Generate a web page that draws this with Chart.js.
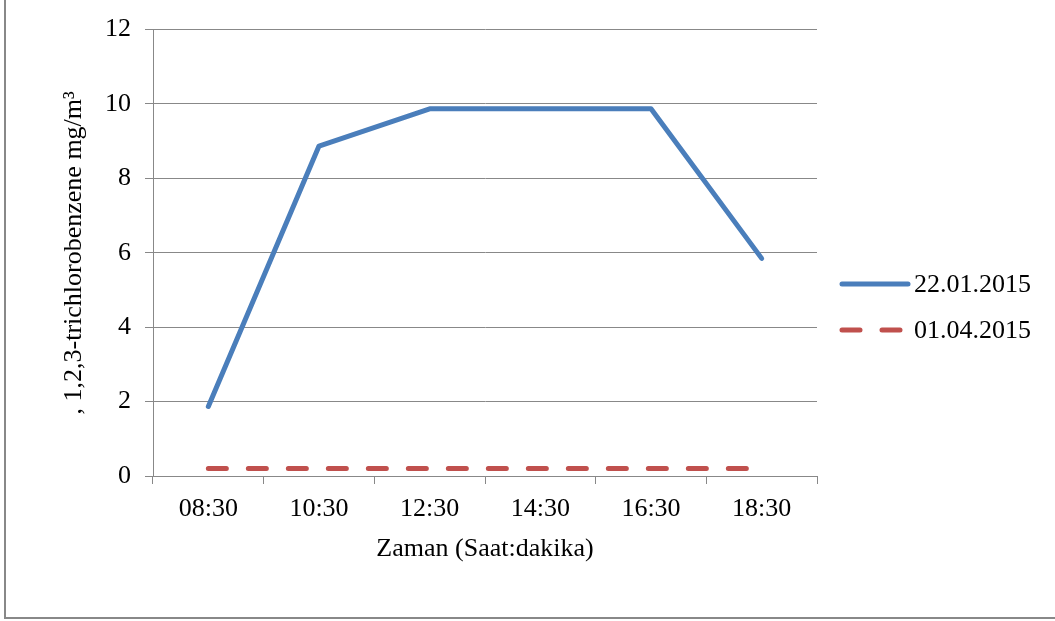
<!DOCTYPE html>
<html>
<head>
<meta charset="utf-8">
<script src="https://cdn.jsdelivr.net/npm/chart.js@4"></script>
<style>
  html, body { margin: 0; padding: 0; background: #ffffff; }
  #wrap { width: 1055px; height: 621px; position: relative; }
</style>
</head>
<body>
<div id="wrap"><canvas id="chart" width="1055" height="621"></canvas></div>
<script>
// Sampling times and measured concentrations (mg/m³)
const times = ['08:30', '10:30', '12:30', '14:30', '16:30', '18:30'];
const seriesJan = [1.87, 8.87, 9.87, 9.87, 9.87, 5.85];
const seriesApr = [0.2, 0.2, 0.2, 0.2, 0.2, 0.2];
const seriesNames = ['22.01.2015', '01.04.2015'];
const yTicks = [0, 2, 4, 6, 8, 10, 12];

const FONT = "'Liberation Serif', 'Times New Roman', serif";
const GRID = '#888888';

// Legend drawn at the right of the plot, line sample + label
const sideLegend = {
  id: 'sideLegend',
  afterDraw(chart) {
    const ctx = chart.ctx;
    const rows = [284, 330];
    ctx.save();
    chart.data.datasets.forEach((ds, i) => {
      const y = rows[i];
      ctx.beginPath();
      ctx.strokeStyle = ds.borderColor;
      ctx.lineWidth = ds.borderWidth;
      ctx.lineCap = 'round';
      ctx.setLineDash(ds.borderDash || []);
      ctx.moveTo(842, y);
      ctx.lineTo(908, y);
      ctx.stroke();
      ctx.setLineDash([]);
      ctx.fillStyle = '#000000';
      ctx.font = '26px ' + FONT;
      ctx.textBaseline = 'middle';
      ctx.textAlign = 'left';
      ctx.fillText(ds.label, 914, y + 1);
    });
    ctx.restore();
  }
};

// Frame lines at the left and bottom edges
const frame = {
  id: 'frame',
  afterDraw(chart) {
    const ctx = chart.ctx;
    ctx.save();
    ctx.strokeStyle = '#888888';
    ctx.lineWidth = 2;
    ctx.beginPath();
    ctx.moveTo(5, 0);
    ctx.lineTo(5, 618);
    ctx.lineTo(1055, 618);
    ctx.stroke();
    ctx.restore();
  }
};

new Chart(document.getElementById('chart'), {
  type: 'line',
  data: {
    labels: times,
    datasets: [
      {
        label: seriesNames[0],
        data: seriesJan,
        borderColor: '#4a7ebb',
        backgroundColor: '#4a7ebb',
        borderWidth: 5,
        pointRadius: 0,
        tension: 0,
        borderCapStyle: 'round',
        borderJoinStyle: 'round'
      },
      {
        label: seriesNames[1],
        data: seriesApr,
        borderColor: '#c0504d',
        backgroundColor: '#c0504d',
        borderWidth: 5,
        borderDash: [18, 22],
        pointRadius: 0,
        tension: 0,
        borderCapStyle: 'round'
      }
    ]
  },
  options: {
    responsive: false,
    animation: false,
    devicePixelRatio: 1,
    layout: { padding: { left: 0, right: 238, top: 28, bottom: 0 } },
    plugins: {
      legend: { display: false },
      tooltip: { enabled: false }
    },
    scales: {
      x: {
        type: 'category',
        offset: true,
        grid: {
          offset: true,
          drawOnChartArea: false,
          drawTicks: true,
          tickLength: 8,
          color: GRID,
          lineWidth: 1
        },
        border: { display: true, color: GRID, width: 1 },
        ticks: {
          color: '#000000',
          font: { family: FONT, size: 26 },
          padding: 10,
          maxRotation: 0
        },
        title: {
          display: true,
          text: 'Zaman (Saat:dakika)',
          color: '#000000',
          font: { family: FONT, size: 26 },
          padding: { top: 0, bottom: 56 }
        },
        afterFit(scale) { scale.height = 145; }
      },
      y: {
        min: 0,
        max: 12,
        afterBuildTicks(scale) { scale.ticks = yTicks.map(v => ({ value: v })); },
        grid: {
          color: GRID,
          lineWidth: 1,
          drawTicks: true,
          tickLength: 8
        },
        border: { display: true, color: GRID, width: 1 },
        ticks: {
          color: '#000000',
          font: { family: FONT, size: 26 },
          padding: 14
        },
        title: {
          display: true,
          text: ', 1,2,3-trichlorobenzene mg/m³',
          color: '#000000',
          font: { family: FONT, size: 26 },
          padding: { top: 59, bottom: 0 }
        },
        afterFit(scale) { scale.width = 153; }
      }
    }
  },
  plugins: [sideLegend, frame]
});
</script>
</body>
</html>
